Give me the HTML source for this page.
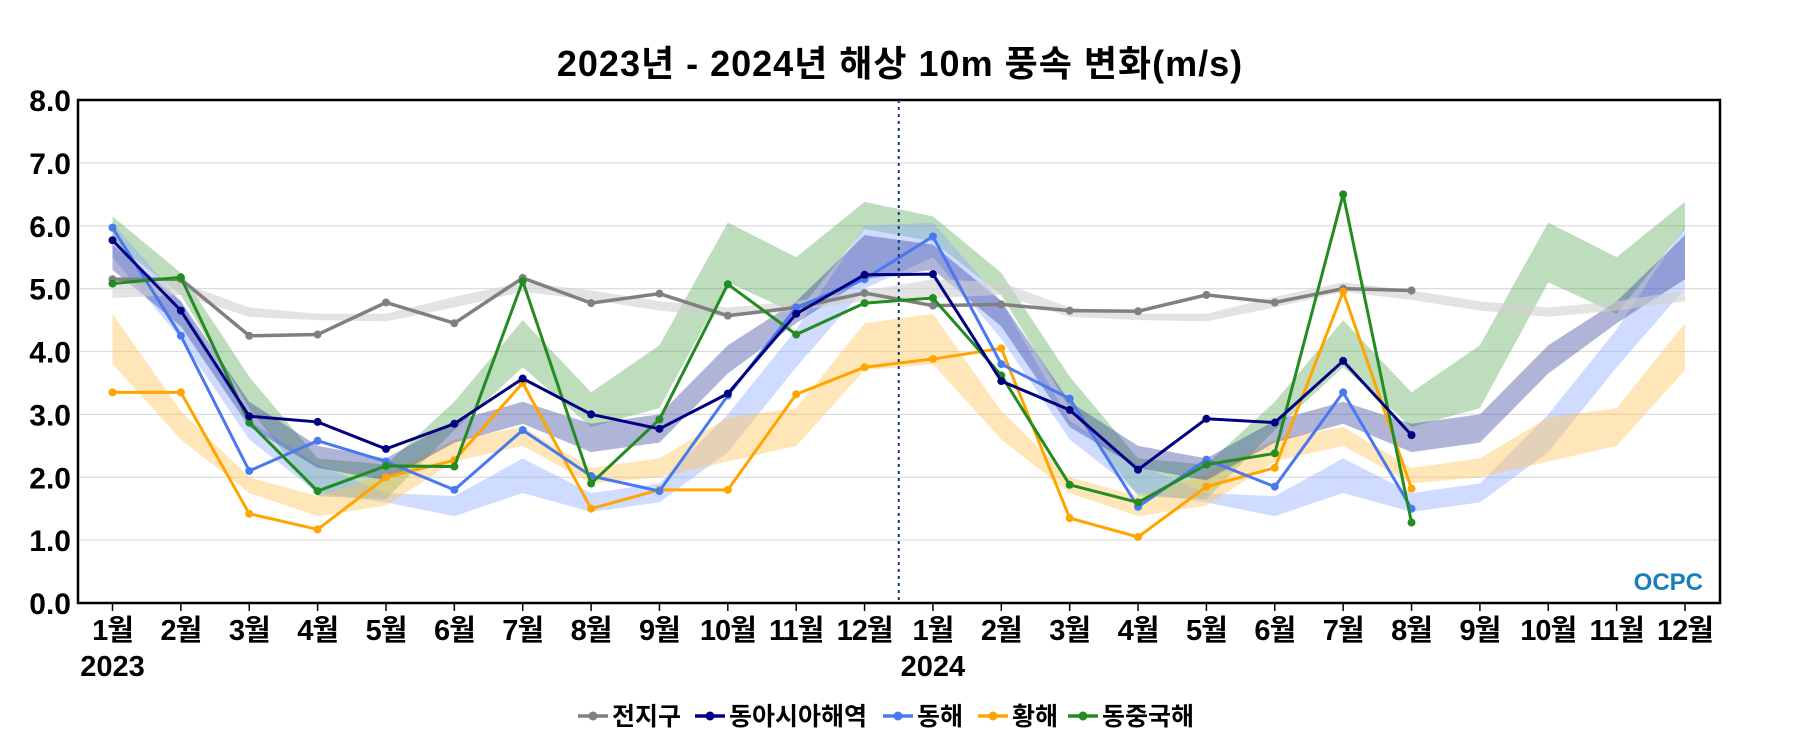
<!DOCTYPE html>
<html><head><meta charset="utf-8">
<style>
html,body{margin:0;padding:0;background:#fff;}
svg{display:block;font-family:"Liberation Sans","Noto Sans CJK KR",sans-serif;}
</style></head>
<body>
<svg id="chart" width="1800" height="750" viewBox="0 0 1800 750" xmlns="http://www.w3.org/2000/svg">
<text x="900" y="76" text-anchor="middle" font-size="36" font-weight="bold" letter-spacing="1">2023년 - 2024년 해상 10m 풍속 변화(m/s)</text>
<g id="grid"></g>
<g id="bands"></g>
<g id="lines"></g>
<rect x="78" y="100" width="1642" height="503" fill="none" stroke="#000" stroke-width="2.5"/>
<g id="axes"></g>
<text x="1703" y="590" text-anchor="end" font-size="24" font-weight="bold" fill="#1a7fb8">OCPC</text>
<g id="legend"></g>
</svg>
<script>
const months=['1월','2월','3월','4월','5월','6월','7월','8월','9월','10월','11월','12월'];
const yTicks=[0,1,2,3,4,5,6,7,8];
const seriesNames=['전지구','동아시아해역','동해','황해','동중국해'];
const seriesColors=['#808080','#000080','#4a78f0','#ffa500','#228b22'];
const globalVals=[5.15,5.15,4.25,4.27,4.78,4.45,5.17,4.77,4.92,4.57,4.7,4.93,4.73,4.75,4.65,4.64,4.9,4.78,5.0,4.97];
const eastAsiaVals=[5.77,4.65,2.97,2.88,2.45,2.85,3.57,3.0,2.77,3.33,4.6,5.22,5.23,3.53,3.07,2.12,2.93,2.87,3.85,2.67];
const eastSeaVals=[5.97,4.25,2.1,2.58,2.25,1.8,2.75,2.02,1.78,3.3,4.7,5.15,5.83,3.8,3.25,1.53,2.28,1.85,3.35,1.5];
const yellowSeaVals=[3.35,3.35,1.42,1.17,2.0,2.27,3.5,1.5,1.8,1.8,3.32,3.75,3.88,4.05,1.35,1.05,1.85,2.15,4.95,1.82];
const ecsVals=[5.08,5.18,2.87,1.78,2.18,2.17,5.12,1.9,2.92,5.07,4.27,4.77,4.85,3.62,1.88,1.6,2.2,2.38,6.5,1.28];
const globalLo=[4.85,4.9,4.55,4.5,4.48,4.7,4.95,4.82,4.65,4.55,4.65,4.8];
const globalHi=[5.15,5.1,4.7,4.6,4.6,4.87,5.1,4.97,4.8,4.7,4.8,4.97];
const eastAsiaLo=[5.3,4.4,2.8,2.15,1.95,2.55,2.85,2.4,2.55,3.65,4.45,5.15];
const eastAsiaHi=[5.7,4.8,3.2,2.5,2.3,2.9,3.2,2.85,3.0,4.1,4.8,5.85];
const eastSeaLo=[5.5,4.2,2.6,1.75,1.6,1.38,1.75,1.45,1.6,2.4,3.75,5.0];
const eastSeaHi=[6.05,4.8,2.9,2.2,1.75,1.7,2.3,1.75,1.9,3.0,4.35,6.0];
const yellowSeaLo=[3.8,2.6,1.75,1.38,1.55,2.25,2.5,1.9,2.0,2.25,2.5,3.7];
const yellowSeaHi=[4.6,3.05,2.0,1.7,2.05,2.6,2.8,2.15,2.3,2.95,3.1,4.45];
const ecsLo=[5.75,4.9,3.1,1.7,1.65,2.75,3.75,2.8,3.1,5.1,4.6,5.95];
const ecsHi=[6.15,5.25,3.6,2.3,2.2,3.2,4.5,3.35,4.1,6.05,5.5,6.38];

const NS='http://www.w3.org/2000/svg';
const L=78,R=1720,T=100,B=603;
const x0=112.5,dx=(1685-112.5)/23;
function xs(i){return x0+i*dx;}
function ys(v){return B-(v/8)*(B-T);}
function mk(tag,attrs,parent){const e=document.createElementNS(NS,tag);for(const k in attrs)e.setAttribute(k,attrs[k]);parent.appendChild(e);return e;}
const grid=document.getElementById('grid'),axes=document.getElementById('axes'),bands=document.getElementById('bands'),lines=document.getElementById('lines'),legend=document.getElementById('legend');

yTicks.forEach(v=>{
  if(v>0&&v<8){const g=mk('line',{x1:L,x2:R,y1:ys(v),y2:ys(v),stroke:'#ddd','stroke-width':1.2},grid);
  
  }
  const t=mk('text',{x:71,y:ys(v)+11,'text-anchor':'end','font-size':30,'font-weight':'bold'},axes);
  t.textContent=v.toFixed(1);
  
  
});
for(let i=0;i<24;i++){
  const tk=mk('line',{x1:xs(i),x2:xs(i),y1:B,y2:B+8,stroke:'#000','stroke-width':1.5},axes);
  
  
  const t=mk('text',{x:xs(i),y:640,'text-anchor':'middle','font-size':29,'font-weight':'bold','letter-spacing':'-1'},axes);
  t.textContent=months[i%12];
  
  
}
[['2023',0],['2024',12]].forEach(([s,i])=>{
  const t=mk('text',{x:xs(i),y:676,'text-anchor':'middle','font-size':29,'font-weight':'bold'},axes);
  t.textContent=s;
  
  
});
const dv=mk('line',{x1:xs(11.5),x2:xs(11.5),y1:T,y2:B,stroke:'#1a3a6a','stroke-width':2,'stroke-dasharray':'3,4'},axes);



const bandColors=['#d0d0d0','#1e2a8c','#8aa8ff','#ffc04d','#5aaa5a'];
const bandOp=[0.6,0.35,0.4,0.4,0.4];
const los=[globalLo,eastAsiaLo,eastSeaLo,yellowSeaLo,ecsLo];
const his=[globalHi,eastAsiaHi,eastSeaHi,yellowSeaHi,ecsHi];
[4,2,3,1,0].forEach(s=>{
  let top=[],bot=[];
  for(let i=0;i<24;i++){top.push(xs(i)+','+ys(his[s][i%12]));bot.unshift(xs(i)+','+ys(los[s][i%12]));}
  const p=mk('polygon',{points:top.concat(bot).join(' '),fill:bandColors[s],'fill-opacity':bandOp[s]},bands);
  
  
});
const vals=[globalVals,eastAsiaVals,eastSeaVals,yellowSeaVals,ecsVals];
[0,3,2,4,1].forEach(s=>{
  const pts=vals[s].map((v,i)=>xs(i)+','+ys(v)).join(' ');
  const pl=mk('polyline',{points:pts,fill:'none',stroke:seriesColors[s],'stroke-width':s==0?3.5:3},lines);
  
  
  vals[s].forEach((v,i)=>{
    const c=mk('circle',{cx:xs(i),cy:ys(v),r:4,fill:seriesColors[s]},lines);
    
    
  });
});
const lx=[578,695,883,978,1068];
seriesNames.forEach((n,s)=>{
  const g=mk('g',{},legend);
  
  
  mk('line',{x1:lx[s],x2:lx[s]+30,y1:716,y2:716,stroke:seriesColors[s],'stroke-width':3.5},g);
  mk('circle',{cx:lx[s]+15,cy:716,r:4.5,fill:seriesColors[s]},g);
  const t=mk('text',{x:lx[s]+34,y:725,'font-size':25,'font-weight':'bold'},g);
  t.textContent=n;
});
</script>
</body></html>
